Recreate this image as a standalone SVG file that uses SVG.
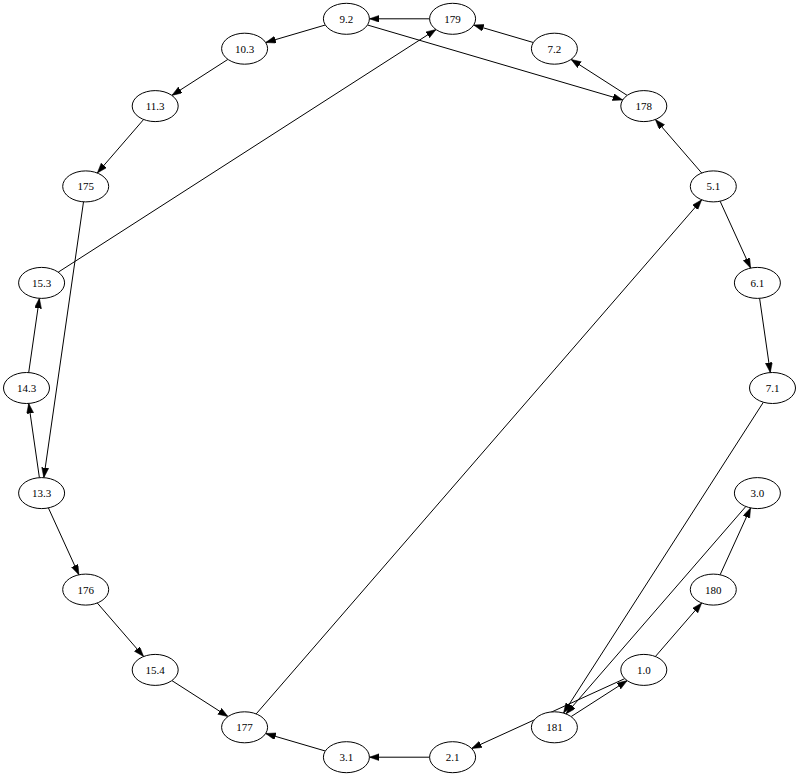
<svg xmlns="http://www.w3.org/2000/svg" width="800" height="777" viewBox="0 0 800 777">
<style>
.n ellipse{fill:#fff;stroke:#000;stroke-width:1}
.n text{font-family:"Liberation Serif","Times New Roman",serif;font-size:11px;text-anchor:middle;fill:#000}
.e line{stroke:#000;stroke-width:1;fill:none;marker-end:url(#ah)}
</style>
<defs>
<marker id="ah" markerUnits="userSpaceOnUse" markerWidth="11" markerHeight="8" refX="10" refY="3.5" orient="auto">
<path d="M0,0 L10,3.5 L0,7 z" fill="#000" stroke="#000" stroke-width="0.5"/>
</marker>
</defs>
<rect width="800" height="777" fill="#fff"/>
<g id="edges" class="e">
<line x1="429.6" y1="18.8" x2="369.4" y2="18.8"/>
<line x1="325.3" y1="25.0" x2="265.7" y2="42.5"/>
<line x1="227.9" y1="59.4" x2="171.9" y2="95.4"/>
<line x1="143.6" y1="119.5" x2="97.3" y2="173.0"/>
<line x1="83.5" y1="201.8" x2="43.8" y2="477.7"/>
<line x1="39.4" y1="477.7" x2="28.7" y2="403.4"/>
<line x1="28.7" y1="372.6" x2="39.4" y2="298.3"/>
<line x1="58.2" y1="272.2" x2="436.0" y2="29.5"/>
<line x1="48.4" y1="507.9" x2="78.9" y2="574.8"/>
<line x1="97.3" y1="603.0" x2="143.6" y2="656.5"/>
<line x1="171.9" y1="680.6" x2="228.0" y2="716.6"/>
<line x1="256.2" y1="713.9" x2="701.7" y2="199.8"/>
<line x1="701.7" y1="173.0" x2="655.4" y2="119.5"/>
<line x1="627.2" y1="95.4" x2="571.1" y2="59.4"/>
<line x1="533.3" y1="42.5" x2="473.7" y2="25.0"/>
<line x1="367.5" y1="25.0" x2="622.7" y2="99.9"/>
<line x1="720.1" y1="201.2" x2="750.6" y2="268.1"/>
<line x1="759.6" y1="298.3" x2="770.3" y2="372.6"/>
<line x1="763.4" y1="402.2" x2="563.5" y2="713.1"/>
<line x1="745.8" y1="506.5" x2="566.0" y2="713.9"/>
<line x1="720.1" y1="574.8" x2="750.6" y2="507.9"/>
<line x1="655.4" y1="656.5" x2="701.7" y2="603.0"/>
<line x1="571.1" y1="716.6" x2="627.2" y2="680.6"/>
<line x1="624.8" y1="678.6" x2="471.6" y2="748.5"/>
<line x1="429.6" y1="757.2" x2="369.4" y2="757.2"/>
<line x1="325.3" y1="751.0" x2="265.7" y2="733.5"/>
</g>
<g id="n7_1" class="n"><ellipse cx="772.5" cy="388" rx="23" ry="15.5"/><text x="772.5" y="392">7.1</text></g>
<g id="n3_0" class="n"><ellipse cx="757.4" cy="493.1" rx="23" ry="15.5"/><text x="757.4" y="497.1">3.0</text></g>
<g id="n180" class="n"><ellipse cx="713.3" cy="589.6" rx="23" ry="15.5"/><text x="713.3" y="593.6">180</text></g>
<g id="n1_0" class="n"><ellipse cx="643.8" cy="669.9" rx="23" ry="15.5"/><text x="643.8" y="673.9">1.0</text></g>
<g id="n181" class="n"><ellipse cx="554.4" cy="727.3" rx="23" ry="15.5"/><text x="554.4" y="731.3">181</text></g>
<g id="n2_1" class="n"><ellipse cx="452.6" cy="757.2" rx="23" ry="15.5"/><text x="452.6" y="761.2">2.1</text></g>
<g id="n3_1" class="n"><ellipse cx="346.4" cy="757.2" rx="23" ry="15.5"/><text x="346.4" y="761.2">3.1</text></g>
<g id="n177" class="n"><ellipse cx="244.6" cy="727.3" rx="23" ry="15.5"/><text x="244.6" y="731.3">177</text></g>
<g id="n15_4" class="n"><ellipse cx="155.2" cy="669.9" rx="23" ry="15.5"/><text x="155.2" y="673.9">15.4</text></g>
<g id="n176" class="n"><ellipse cx="85.7" cy="589.6" rx="23" ry="15.5"/><text x="85.7" y="593.6">176</text></g>
<g id="n13_3" class="n"><ellipse cx="41.6" cy="493.1" rx="23" ry="15.5"/><text x="41.6" y="497.1">13.3</text></g>
<g id="n14_3" class="n"><ellipse cx="26.5" cy="388" rx="23" ry="15.5"/><text x="26.5" y="392">14.3</text></g>
<g id="n15_3" class="n"><ellipse cx="41.6" cy="282.9" rx="23" ry="15.5"/><text x="41.6" y="286.9">15.3</text></g>
<g id="n175" class="n"><ellipse cx="85.7" cy="186.4" rx="23" ry="15.5"/><text x="85.7" y="190.4">175</text></g>
<g id="n11_3" class="n"><ellipse cx="155.2" cy="106.1" rx="23" ry="15.5"/><text x="155.2" y="110.1">11.3</text></g>
<g id="n10_3" class="n"><ellipse cx="244.6" cy="48.7" rx="23" ry="15.5"/><text x="244.6" y="52.7">10.3</text></g>
<g id="n9_2" class="n"><ellipse cx="346.4" cy="18.8" rx="23" ry="15.5"/><text x="346.4" y="22.8">9.2</text></g>
<g id="n179" class="n"><ellipse cx="452.6" cy="18.8" rx="23" ry="15.5"/><text x="452.6" y="22.8">179</text></g>
<g id="n7_2" class="n"><ellipse cx="554.4" cy="48.7" rx="23" ry="15.5"/><text x="554.4" y="52.7">7.2</text></g>
<g id="n178" class="n"><ellipse cx="643.8" cy="106.1" rx="23" ry="15.5"/><text x="643.8" y="110.1">178</text></g>
<g id="n5_1" class="n"><ellipse cx="713.3" cy="186.4" rx="23" ry="15.5"/><text x="713.3" y="190.4">5.1</text></g>
<g id="n6_1" class="n"><ellipse cx="757.4" cy="282.9" rx="23" ry="15.5"/><text x="757.4" y="286.9">6.1</text></g>
</svg>
